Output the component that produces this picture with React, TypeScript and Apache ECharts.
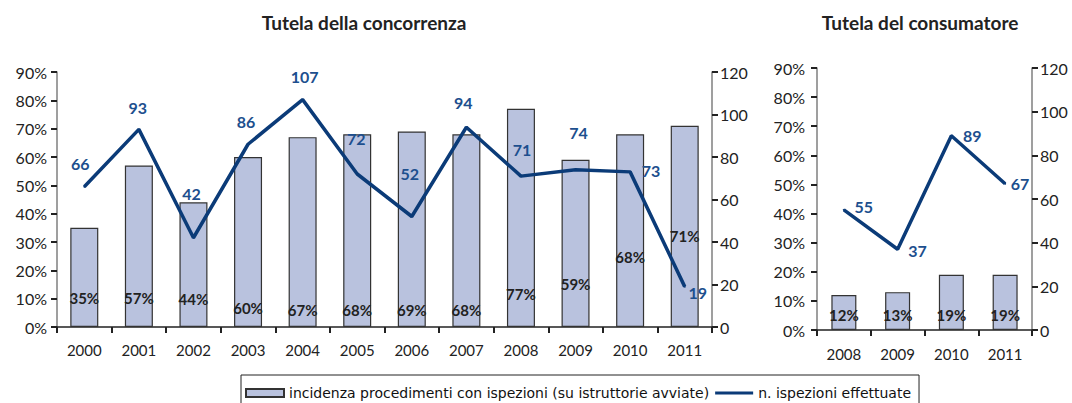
import React, { useEffect, useRef } from "react";
import * as echarts from "echarts";

// ---- data ----
const years1 = ["2000", "2001", "2002", "2003", "2004", "2005", "2006", "2007", "2008", "2009", "2010", "2011"];
const incidence1 = [35, 57, 44, 60, 67, 68, 69, 68, 77, 59, 68, 71];
const inspections1 = [66, 93, 42, 86, 107, 72, 52, 94, 71, 74, 73, 19];

const years2 = ["2008", "2009", "2010", "2011"];
const incidence2 = [12, 13, 19, 19];
const inspections2 = [55, 37, 89, 67];

const barName = "incidenza procedimenti con ispezioni (su istruttorie avviate)";
const lineName = "n. ispezioni effettuate";
const title1 = "Tutela della concorrenza";
const title2 = "Tutela del consumatore";

// ---- label placement (styling only) ----
const barLabelLift1 = [22, 22, 21, 12, 10, 10, 10, 10, 26, 36, 63, 84];
const lineLabelShift1 = [[-4, -23], [-1, -22], [-2, -44], [-2, -23], [2, -23], [-1, -36], [-2, -43], [-3, -25], [1, -27], [3, -37], [21, -1], [13, 6]];
const barLabelLift2 = [8, 8, 8, 8];
const lineLabelShift2 = [[20, -3], [20, 1], [21, 0], [15, 0]];

const FONT = "Lato";
const BAR_FILL = "#B9C2DE";
const LINE_COLOR = "#0B3B78";
const LINE_LABEL = "#1D4F8E";
const LINE_ICON = "path://M0,0 L0.01,0 L0.01,0.01 Z M0,2.6 L38,2.6 L38,5.4 L0,5.4 Z M37.99,7.99 L38,8 L37.99,8 Z";

function yAxisBase(gridIndex: number, pos: "left" | "right", max: number, interval: number, fmt: string, margin: number) {
  return {
    type: "value",
    gridIndex,
    position: pos,
    min: 0,
    max,
    interval,
    splitLine: { show: false },
    axisLine: { show: true, lineStyle: { color: "#7f7f7f", width: 1.5 } },
    axisTick: { show: true, length: 6, lineStyle: { color: "#222", width: 2 } },
    axisLabel: { formatter: fmt, color: "#222", fontFamily: FONT, fontSize: 16, margin },
  };
}

function xAxisBase(gridIndex: number, data: string[], margin: number) {
  return {
    type: "category",
    gridIndex,
    data,
    boundaryGap: true,
    axisLine: { show: true, lineStyle: { color: "#222", width: 1.5 } },
    axisTick: { show: true, length: 6, alignWithLabel: false, lineStyle: { color: "#222", width: 2 } },
    axisLabel: { color: "#222", fontFamily: FONT, fontSize: 15, margin },
  };
}

export default function App() {
  const ref = useRef<HTMLDivElement>(null);

  useEffect(() => {
    if (!ref.current) return;
    const chart = echarts.init(ref.current, undefined, { renderer: "svg" });

    const barLabel = { show: true, position: "insideBottom", color: "#222", fontFamily: FONT, fontWeight: "bold", fontSize: 15, formatter: "{c}%" };
    const lineLabel = { show: true, position: "inside", color: LINE_LABEL, fontFamily: FONT, fontWeight: "bold", fontSize: 16 };

    const option = {
      animation: false,
      backgroundColor: "#ffffff",
      graphic: [
        { type: "text", x: 364, y: 22, style: { text: title1, textAlign: "center", textVerticalAlign: "middle", fontFamily: FONT, fontWeight: "bold", fontSize: 19, fill: "#222" } },
        { type: "text", x: 920, y: 22, style: { text: title2, textAlign: "center", textVerticalAlign: "middle", fontFamily: FONT, fontWeight: "bold", fontSize: 19, fill: "#222" } },
      ],
      legend: {
        left: 241,
        top: 375,
        padding: [11, 8, 20, 4],
        itemGap: 6,
        itemWidth: 38,
        itemHeight: 8,
        borderColor: "#222",
        borderWidth: 1,
        textStyle: { fontFamily: "DejaVu Sans", fontSize: 14, color: "#111" },
        data: [
          { name: barName, icon: "rect" },
          { name: lineName, icon: LINE_ICON, itemStyle: { color: LINE_COLOR } },
        ],
      },
      grid: [
        { left: 57, right: 360, top: 72, bottom: 76 },
        { left: 817, right: 40, top: 68, bottom: 73 },
      ],
      xAxis: [xAxisBase(0, years1, 15), xAxisBase(1, years2, 16)],
      yAxis: [
        yAxisBase(0, "left", 90, 10, "{value}%", 10),
        yAxisBase(0, "right", 120, 20, "{value}", 8),
        yAxisBase(1, "left", 90, 10, "{value}%", 12),
        yAxisBase(1, "right", 120, 20, "{value}", 8),
      ],
      series: [
        {
          name: barName,
          type: "bar",
          xAxisIndex: 0,
          yAxisIndex: 0,
          barWidth: 28,
          itemStyle: { color: BAR_FILL, borderColor: "#333", borderWidth: 1.2 },
          label: barLabel,
          data: incidence1.map((v, i) => ({ value: v, label: { distance: barLabelLift1[i] } })),
          z: 2,
        },
        {
          name: lineName,
          type: "line",
          xAxisIndex: 0,
          yAxisIndex: 1,
          symbol: "circle",
          symbolSize: 2,
          itemStyle: { color: LINE_COLOR },
          lineStyle: { color: LINE_COLOR, width: 3.5 },
          label: lineLabel,
          data: inspections1.map((v, i) => ({ value: v, label: { offset: lineLabelShift1[i] } })),
          z: 5,
        },
        {
          name: barName,
          type: "bar",
          xAxisIndex: 1,
          yAxisIndex: 2,
          barWidth: 25,
          itemStyle: { color: BAR_FILL, borderColor: "#333", borderWidth: 1.2 },
          label: barLabel,
          data: incidence2.map((v, i) => ({ value: v, label: { distance: barLabelLift2[i] } })),
          z: 2,
        },
        {
          name: lineName,
          type: "line",
          xAxisIndex: 1,
          yAxisIndex: 3,
          symbol: "circle",
          symbolSize: 2,
          itemStyle: { color: LINE_COLOR },
          lineStyle: { color: LINE_COLOR, width: 3.5 },
          label: lineLabel,
          data: inspections2.map((v, i) => ({ value: v, label: { offset: lineLabelShift2[i] } })),
          z: 5,
        },
      ],
    };

    chart.setOption(option as any);
    return () => chart.dispose();
  }, []);

  return <div ref={ref} style={{ position: "fixed", left: 0, top: 0, width: 1072, height: 403 }} />;
}
